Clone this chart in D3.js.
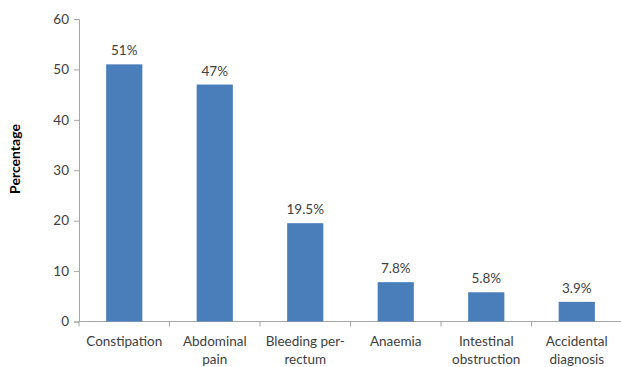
<!DOCTYPE html>
<html><head><meta charset="utf-8">
<script src="https://cdn.jsdelivr.net/npm/d3@7"></script>
<style>body{margin:0;background:#fff}text{font-family:Lato,"Open Sans",sans-serif}</style>
</head><body><svg id="c" width="621" height="367"></svg>
<script>
const categories = [["Constipation"],["Abdominal","pain"],["Bleeding per-","rectum"],["Anaemia"],["Intestinal","obstruction"],["Accidental","diagnosis"]];
const values = [51, 47, 19.5, 7.8, 5.8, 3.9];
const valueLabels = ["51%","47%","19.5%","7.8%","5.8%","3.9%"];
const yTicks = [0,10,20,30,40,50,60];

(function(){
const svg = d3.select("#c");
const mLeft = 79, mRight = 622, mTop = 19, mBottom = 321.5;
const idx = d3.range(values.length);
const x = d3.scaleBand().domain(idx).range([mLeft, mRight]).paddingInner(0.6).paddingOuter(0.3);
const y = d3.scaleLinear().domain([0, 60]).range([mBottom, mTop]);
const textColor = "#404040", axisColor = "#a6a6a6";
const fs = "13.5px";

// Y axis
const ya = svg.append("g").attr("transform", `translate(${mLeft},0)`)
  .call(d3.axisLeft(y).tickValues(yTicks).tickSize(5).tickPadding(5));
ya.select(".domain").attr("stroke", axisColor);
ya.selectAll(".tick line").attr("stroke", axisColor);
ya.selectAll(".tick text").attr("fill", textColor).style("font-size", fs);

// X axis line + ticks at band boundaries
svg.append("line").attr("x1", mLeft).attr("x2", mRight).attr("y1", mBottom).attr("y2", mBottom).attr("stroke", axisColor);
const bounds = d3.range(values.length + 1).map(i => mLeft + i * (mRight - mLeft) / values.length);
svg.selectAll(".xt").data(bounds).join("line").attr("x1", d => d).attr("x2", d => d)
  .attr("y1", mBottom).attr("y2", mBottom + 5).attr("stroke", axisColor);

// Bars
svg.selectAll(".bar").data(idx).join("rect")
  .attr("x", i => x(i)).attr("width", x.bandwidth())
  .attr("y", i => y(values[i])).attr("height", i => mBottom - y(values[i]))
  .attr("fill", "#4a7ebb");

// Value labels
svg.selectAll(".vl").data(idx).join("text")
  .attr("x", i => x(i) + x.bandwidth() / 2).attr("y", i => y(values[i]) - 9)
  .attr("text-anchor", "middle").attr("fill", textColor).style("font-size", fs)
  .text(i => valueLabels[i]);

// Category labels
const cl = svg.selectAll(".cl").data(idx).join("text")
  .attr("x", i => x(i) + x.bandwidth() / 2).attr("y", 346)
  .attr("text-anchor", "middle").attr("fill", textColor).style("font-size", fs);
cl.each(function(i){
  const t = d3.select(this);
  categories[i].forEach((line, j) => {
    t.append("tspan").attr("x", x(i) + x.bandwidth() / 2).attr("dy", j === 0 ? 0 : 18).text(line);
  });
});

// Y title
svg.append("text").attr("transform", `translate(20,159) rotate(-90)`)
  .attr("text-anchor", "middle").attr("fill", "#000").style("font-size", "14px").style("font-weight", "bold")
  .text("Percentage");
})();
</script></body></html>
